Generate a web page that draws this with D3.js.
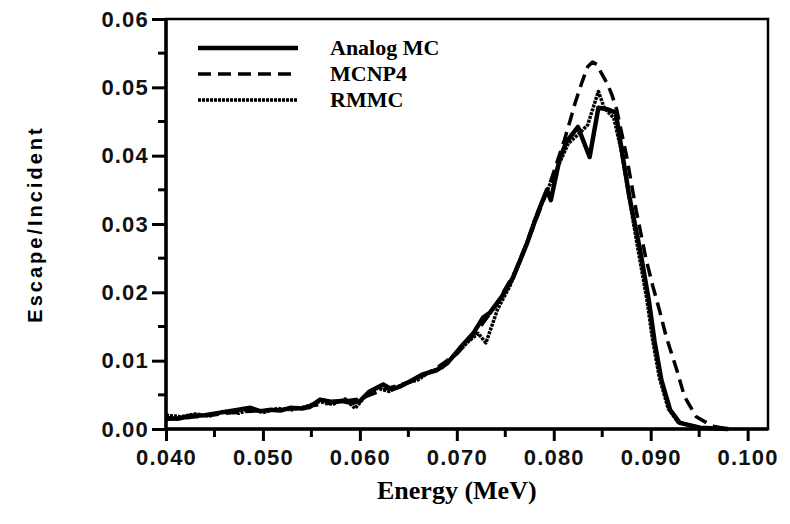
<!DOCTYPE html>
<html>
<head>
<meta charset="utf-8">
<script src="https://cdn.jsdelivr.net/npm/d3@7"></script>
<style>
  body { margin: 0; background: #fff; }
  svg { display: block; }
</style>
</head>
<body>
<div id="chart"></div>
<script>
// Escape/Incident vs Energy, three calculations

var seriesNames = ["Analog MC", "MCNP4", "RMMC"];

var xTicks = [0.040, 0.050, 0.060, 0.070, 0.080, 0.090, 0.100];
var yTicks = [0.00, 0.01, 0.02, 0.03, 0.04, 0.05, 0.06];

var analogE = [0.0400, 0.0412, 0.0425, 0.0440, 0.0456, 0.0470, 0.0487, 0.0497, 0.0507, 0.0518,
  0.0528, 0.0540, 0.0548, 0.0559, 0.0570, 0.0582, 0.0592, 0.0600, 0.0610, 0.0624,
  0.0633, 0.0641, 0.0652, 0.0665, 0.0679, 0.0690, 0.0703, 0.0717, 0.0727, 0.0734,
  0.0747, 0.0758, 0.0772, 0.0784, 0.0793, 0.0797, 0.0806, 0.0813, 0.0825, 0.0837,
  0.0846, 0.0855, 0.0864, 0.0871, 0.0878, 0.0889, 0.0898, 0.0904, 0.0911, 0.0920,
  0.0930, 0.0951, 0.0980];
var analogY = [0.0016, 0.0015, 0.0019, 0.0020, 0.0024, 0.0027, 0.0031, 0.0026, 0.0028, 0.0027,
  0.0031, 0.0030, 0.0032, 0.0043, 0.0040, 0.0041, 0.0038, 0.0041, 0.0055, 0.0065,
  0.0058, 0.0062, 0.0070, 0.0080, 0.0086, 0.0096, 0.0118, 0.0140, 0.0163, 0.0170,
  0.0195, 0.0222, 0.0270, 0.0318, 0.0350, 0.0335, 0.0395, 0.0420, 0.0442, 0.0398,
  0.0470, 0.0468, 0.0463, 0.0400, 0.0340, 0.0262, 0.0189, 0.0128, 0.0072, 0.0028,
  0.0009, 0.0002, 0.0000];

var mcnpE = [0.0400, 0.0425, 0.0450, 0.0475, 0.0500, 0.0525, 0.0550, 0.0575, 0.0600, 0.0625,
  0.0650, 0.0675, 0.0700, 0.0720, 0.0740, 0.0760, 0.0780, 0.0795, 0.0811, 0.0817,
  0.0822, 0.0829, 0.0835, 0.0840, 0.0845, 0.0849, 0.0855, 0.0860, 0.0865, 0.0875,
  0.0885, 0.0895, 0.0902, 0.0909, 0.0916, 0.0927, 0.0935, 0.0947, 0.0964, 0.0980];
var mcnpY = [0.0014, 0.0017, 0.0021, 0.0025, 0.0027, 0.0029, 0.0034, 0.0039, 0.0044, 0.0058,
  0.0068, 0.0085, 0.0110, 0.0142, 0.0180, 0.0230, 0.0300, 0.0355, 0.0423, 0.0452,
  0.0477, 0.0507, 0.0530, 0.0537, 0.0533, 0.0521, 0.0506, 0.0489, 0.0467, 0.0400,
  0.0320, 0.0250, 0.0210, 0.0174, 0.0135, 0.0086, 0.0047, 0.0018, 0.0004, 0.0000];

var rmmcE = [0.0400, 0.0415, 0.0430, 0.0445, 0.0460, 0.0475, 0.0490, 0.0500, 0.0515, 0.0530,
  0.0545, 0.0558, 0.0572, 0.0585, 0.0595, 0.0605, 0.0618, 0.0630, 0.0645, 0.0660,
  0.0672, 0.0685, 0.0698, 0.0712, 0.0722, 0.0730, 0.0742, 0.0755, 0.0768, 0.0780,
  0.0792, 0.0803, 0.0815, 0.0826, 0.0835, 0.0846, 0.0852, 0.0862, 0.0870, 0.0877,
  0.0887, 0.0896, 0.0902, 0.0909, 0.0918, 0.0928, 0.0950, 0.0980];
var rmmcY = [0.0020, 0.0018, 0.0022, 0.0019, 0.0026, 0.0023, 0.0030, 0.0024, 0.0030, 0.0028,
  0.0033, 0.0040, 0.0036, 0.0044, 0.0030, 0.0047, 0.0060, 0.0055, 0.0066, 0.0072,
  0.0084, 0.0090, 0.0108, 0.0128, 0.0140, 0.0126, 0.0175, 0.0210, 0.0255, 0.0305,
  0.0345, 0.0380, 0.0418, 0.0432, 0.0445, 0.0494, 0.0470, 0.0455, 0.0405, 0.0345,
  0.0262, 0.0190, 0.0130, 0.0075, 0.0030, 0.0010, 0.0002, 0.0000];

var width = 790, height = 524;
var margin = { top: 19, right: 22, bottom: 95, left: 166 };
var plotW = width - margin.left - margin.right;
var plotH = height - margin.top - margin.bottom;

var svg = d3.select("#chart").append("svg")
  .attr("width", width)
  .attr("height", height);

var chartGroup = svg.append("g")
  .attr("transform", `translate(${margin.left}, ${margin.top})`);

var xScale = d3.scaleLinear().domain([0.040, 0.1021]).range([0, plotW]);
var yScale = d3.scaleLinear().domain([0, 0.06]).range([plotH, 0]);

// minor ticks every half step
var xMinor = d3.range(0.045, 0.1, 0.01);
var yMinor = d3.range(0.005, 0.06, 0.01);

var bottomAxis = d3.axisBottom(xScale).tickValues(xTicks)
  .tickFormat(d3.format(".3f")).tickSize(12).tickPadding(8);
var leftAxis = d3.axisLeft(yScale).tickValues(yTicks)
  .tickFormat(d3.format(".2f")).tickSize(14).tickPadding(3);

var xg = chartGroup.append("g")
  .attr("transform", `translate(0, ${plotH})`)
  .call(bottomAxis);
var yg = chartGroup.append("g").call(leftAxis);

chartGroup.append("g").selectAll("line").data(xMinor).enter().append("line")
  .attr("x1", d => xScale(d)).attr("x2", d => xScale(d))
  .attr("y1", plotH).attr("y2", plotH + 8);
chartGroup.append("g").selectAll("line").data(yMinor).enter().append("line")
  .attr("x1", 0).attr("x2", -8)
  .attr("y1", d => yScale(d)).attr("y2", d => yScale(d));

chartGroup.selectAll("line").attr("stroke", "#000").attr("stroke-width", 3);
[xg, yg].forEach(function(g) {
  g.select(".domain").remove();
  g.selectAll("text")
    .attr("fill", "#111")
    .style("font-family", "'Liberation Sans', Arial, sans-serif")
    .style("font-weight", "bold")
    .style("font-size", "22px")
    .style("letter-spacing", "1.2px");
});

// frame
chartGroup.append("rect")
  .attr("width", plotW).attr("height", plotH)
  .attr("fill", "none").attr("stroke", "#000").attr("stroke-width", 2.5);
chartGroup.append("line").attr("x1", 0).attr("x2", 0).attr("y1", 0).attr("y2", plotH)
  .attr("stroke", "#000").attr("stroke-width", 3.5);
chartGroup.append("line").attr("x1", 0).attr("x2", plotW).attr("y1", plotH).attr("y2", plotH)
  .attr("stroke", "#000").attr("stroke-width", 3.5);

var styles = [
  { w: 4.5, dash: null },
  { w: 3.5, dash: "13,7" },
  { w: 3.5, dash: "3,1" }
];

var series = [
  d3.zip(analogE, analogY),
  d3.zip(mcnpE, mcnpY),
  d3.zip(rmmcE, rmmcY)
];

var line = d3.line()
  .x(d => xScale(d[0]))
  .y(d => yScale(d[1]));

series.forEach(function(s, i) {
  chartGroup.append("path")
    .datum(s)
    .attr("d", line)
    .attr("fill", "none")
    .attr("stroke", "#000")
    .attr("stroke-width", styles[i].w)
    .attr("stroke-linejoin", "round")
    .attr("stroke-dasharray", styles[i].dash);
});

// legend
var legend = svg.append("g");
seriesNames.forEach(function(name, i) {
  var y = 48 + i * 26;
  legend.append("line")
    .attr("x1", 198).attr("x2", 298).attr("y1", y).attr("y2", y)
    .attr("stroke", "#000")
    .attr("stroke-width", styles[i].w)
    .attr("stroke-dasharray", styles[i].dash);
  legend.append("text")
    .attr("x", 330).attr("y", y + 7)
    .style("font-family", "'Liberation Serif', 'Times New Roman', serif")
    .style("font-weight", "bold")
    .style("font-size", "22px")
    .text(name);
});

// axis titles
svg.append("text")
  .attr("x", margin.left + xScale(0.070)).attr("y", 499)
  .attr("text-anchor", "middle")
  .style("font-family", "'Liberation Serif', 'Times New Roman', serif")
  .style("font-weight", "bold")
  .style("font-size", "26px")
  .text("Energy (MeV)");

svg.append("text")
  .attr("transform", `translate(42, ${margin.top + plotH / 2}) rotate(-90)`)
  .attr("text-anchor", "middle")
  .style("font-family", "'Liberation Sans', Arial, sans-serif")
  .style("font-weight", "bold")
  .style("font-size", "20px")
  .style("letter-spacing", "3px")
  .text("Escape/Incident");
</script>
</body>
</html>
